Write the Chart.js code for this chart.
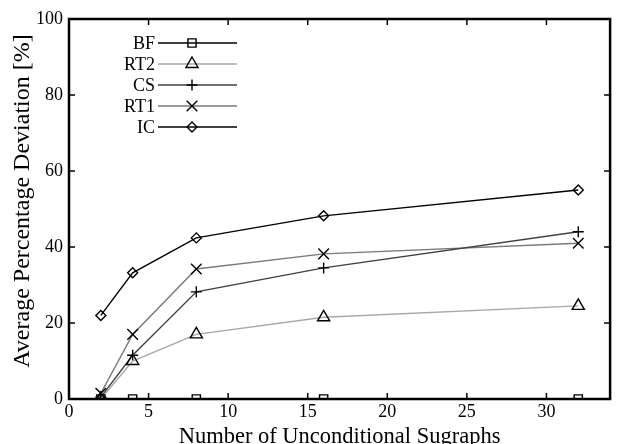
<!DOCTYPE html>
<html>
<head>
<meta charset="utf-8">
<script src="https://cdn.jsdelivr.net/npm/chart.js@4/dist/chart.umd.min.js"></script>
<style>
  html, body { margin: 0; padding: 0; background: #fff; }
  #wrap { width: 619px; height: 444px; }
</style>
</head>
<body>
<div id="wrap"><canvas id="myChart"></canvas></div>
<script>
const subgraphs = [2, 4, 8, 16, 32];
const seriesNames = ['BF', 'RT2', 'CS', 'RT1', 'IC'];
const bf  = [0, 0, 0, 0, 0];
const rt2 = [0, 10, 17, 21.5, 24.5];
const cs  = [0.5, 11.5, 28.2, 34.5, 44];
const rt1 = [1.5, 17, 34.2, 38.2, 41];
const ic  = [22, 33.2, 42.4, 48.2, 55];
const xTicks = [0, 5, 10, 15, 20, 25, 30];
const yTicks = [0, 20, 40, 60, 80, 100];

const FONT = '"Liberation Serif", "DejaVu Serif", serif';

function pts(vals) {
  return subgraphs.map((x, i) => ({ x: x, y: vals[i] }));
}

const styles = [
  { color: '#000000', pointStyle: 'rect', radius: 5.8 },
  { color: '#a8a8a8', pointStyle: 'triangle', radius: 7 },
  { color: '#404040', pointStyle: 'cross', radius: 5.5 },
  { color: '#7a7a7a', pointStyle: 'crossRot', radius: 7.5 },
  { color: '#000000', pointStyle: 'rectRot', radius: 5 }
];

const values = [bf, rt2, cs, rt1, ic];

const datasets = seriesNames.map((name, i) => ({
  label: name,
  data: pts(values[i]),
  borderColor: styles[i].color,
  backgroundColor: '#ffffff',
  borderWidth: 1.4,
  pointStyle: styles[i].pointStyle,
  pointRadius: styles[i].radius,
  pointBorderColor: '#000000',
  pointBackgroundColor: 'rgba(255,255,255,0)',
  pointBorderWidth: 1.4,
  tension: 0
}));

// gnuplot-like frame, inward ticks, y title and legend
const framePlugin = {
  id: 'frame',
  afterDatasetsDraw(chart) {
    const { ctx, chartArea: a, scales } = chart;
    ctx.save();
    ctx.strokeStyle = '#000';
    ctx.lineWidth = 1.5;
    ctx.beginPath();
    xTicks.forEach(v => {
      if (v === 0) return;
      const px = scales.x.getPixelForValue(v);
      ctx.moveTo(px, a.bottom); ctx.lineTo(px, a.bottom - 6);
      ctx.moveTo(px, a.top); ctx.lineTo(px, a.top + 6);
    });
    yTicks.forEach(v => {
      if (v === 0 || v === 100) return;
      const py = scales.y.getPixelForValue(v);
      ctx.moveTo(a.left, py); ctx.lineTo(a.left + 6, py);
      ctx.moveTo(a.right, py); ctx.lineTo(a.right - 6, py);
    });
    ctx.stroke();
    ctx.lineWidth = 2.5;
    ctx.strokeRect(a.left, a.top, a.right - a.left, a.bottom - a.top);

    // y axis title
    ctx.save();
    ctx.translate(23, 201);
    ctx.rotate(-Math.PI / 2);
    ctx.font = '24px ' + FONT;
    ctx.fillStyle = '#000';
    ctx.textAlign = 'center';
    ctx.textBaseline = 'middle';
    ctx.fillText('Average Percentage Deviation [%]', 0, 0);
    ctx.restore();

    // legend
    ctx.font = '18px ' + FONT;
    ctx.textAlign = 'right';
    ctx.textBaseline = 'middle';
    chart.data.datasets.forEach((ds, i) => {
      const y = 43 + i * 21;
      ctx.fillStyle = '#000';
      ctx.fillText(ds.label, 155, y + 1);
      ctx.strokeStyle = ds.borderColor;
      ctx.lineWidth = 1.4;
      ctx.beginPath();
      ctx.moveTo(158, y); ctx.lineTo(237, y);
      ctx.stroke();
      ctx.strokeStyle = '#000';
      ctx.fillStyle = 'rgba(255,255,255,0)';
      Chart.helpers.drawPoint(ctx, {
        pointStyle: ds.pointStyle,
        radius: ds.pointRadius,
        rotation: 0,
        borderWidth: 1.4
      }, 192, y);
    });
    ctx.restore();
  }
};

const ctx = document.getElementById('myChart').getContext('2d');

new Chart(ctx, {
  type: 'line',
  data: { datasets: datasets },
  options: {
    responsive: true,
    maintainAspectRatio: false,
    animation: false,
    events: [],
    layout: { padding: { top: 19, right: 5, left: 0, bottom: 0 } },
    plugins: {
      legend: { display: false },
      tooltip: { enabled: false }
    },
    scales: {
      x: {
        type: 'linear',
        min: 0,
        max: 34,
        afterFit(scale) {
          scale.height = 45;
          scale.paddingLeft = 0;
          scale.paddingRight = 0;
        },
        afterBuildTicks(scale) { scale.ticks = xTicks.map(v => ({ value: v })); },
        grid: { display: false, drawTicks: false },
        border: { display: false },
        ticks: {
          color: '#000',
          font: { family: FONT, size: 18 },
          padding: 2,
          maxRotation: 0,
          autoSkip: false
        },
        title: {
          display: true,
          text: 'Number of Unconditional Sugraphs',
          color: '#000',
          font: { family: FONT, size: 22.5 },
          padding: { top: 0, bottom: -7 }
        }
      },
      y: {
        min: 0,
        max: 100,
        afterFit(scale) { scale.width = 69; },
        afterBuildTicks(scale) { scale.ticks = yTicks.map(v => ({ value: v })); },
        grid: { display: false, drawTicks: false },
        border: { display: false },
        ticks: {
          color: '#000',
          font: { family: FONT, size: 18 },
          padding: 6
        },
        title: { display: false }
      }
    }
  },
  plugins: [framePlugin]
});
</script>
</body>
</html>
